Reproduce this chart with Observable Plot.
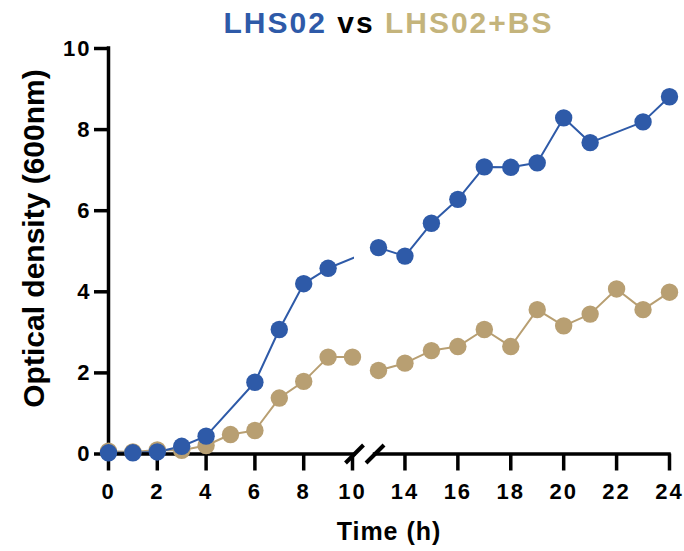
<!DOCTYPE html>
<html><head><meta charset="utf-8">
<script src="https://cdn.jsdelivr.net/npm/d3@7"></script>
<script src="https://cdn.jsdelivr.net/npm/@observablehq/plot@0.6"></script>
<style>
body{margin:0;background:#fff;}
#title{font:bold 30px "Liberation Sans",Arial,sans-serif;letter-spacing:2px;height:38px;box-sizing:border-box;padding-top:8px;line-height:30px;margin-left:108px;width:561px;text-align:center;white-space:nowrap;}
#chart g[aria-label="x-axis tick label"] text, #chart g[aria-label="y-axis tick label"] text{letter-spacing:2px;}
#chart text.xlab{letter-spacing:1px;}
</style></head><body>
<div id="title"><span style="color:#2E5AA8">LHS02</span> <span style="color:#000">vs</span> <span style="color:#C4B47C">LHS02+BS</span></div>
<div id="chart"></div>
<script>
// Data (time in hours, OD600)
const hours   = [0, 1, 2, 3, 4, 5, 6, 7, 8, 9, 10, 13, 14, 15, 16, 17, 18, 19, 20, 21, 22, 23, 24];
const lhs02   = [0.03, 0.03, 0.05, 0.19, 0.44, null, 1.77, 3.07, 4.2, 4.58, null, 5.09, 4.88, 5.69, 6.28, 7.08, 7.07, 7.18, 8.29, 7.68, null, 8.19, 8.81];
const lhs02bs = [0.07, 0.05, 0.1, 0.09, 0.21, 0.48, 0.58, 1.38, 1.79, 2.39, 2.39, 2.06, 2.24, 2.55, 2.65, 3.07, 2.65, 3.56, 3.16, 3.45, 4.07, 3.56, 3.99];
const xTicks = [0, 2, 4, 6, 8, 10, 14, 16, 18, 20, 22, 24];
const yTicks = [0, 2, 4, 6, 8, 10];
const seriesNames = ["LHS02", "LHS02+BS"];
const xLabel = "Time (h)";
const yLabel = "Optical density (600nm)";
// broken axis: gap between 10 h and 13 h
const xDomain = [0, 10, 13, 24];
const breakAt = [10.23, 12.6];

const blue = "#2E5AA8", tan = "#B89F72";
const W = 684, H = 513, mL = 108, mR = 15, mT = 10, mB = 97.5;
const xRange = [108, 352, 378, 669];

const rows = hours.map((h, i) => ({h, a: lhs02[i], b: lhs02bs[i]}));
const A = rows.filter(d => d.a != null);
const B = rows.filter(d => d.b != null);

const xs = d3.scaleLinear(xDomain, xRange);
const ys = d3.scaleLinear([0, 10], [H - mB, mT]);
const half = 9;
const slashes = breakAt.map(c => ({
  x1: xs.invert(xs(c) - half), x2: xs.invert(xs(c) + half),
  y1: ys.invert(ys(0) + half), y2: ys.invert(ys(0) - half)
}));
const axisSegments = [{x1: 0, x2: breakAt[0]}, {x1: breakAt[1], x2: d3.max(hours)}];

const chart = Plot.plot({
  width: W, height: H,
  marginLeft: mL, marginRight: mR, marginTop: mT, marginBottom: mB,
  x: {type: "linear", domain: xDomain, range: xRange},
  y: {domain: [0, 10]},
  style: {fontFamily: '"Liberation Sans", Arial, sans-serif', fontWeight: "bold", fontSize: "22px", color: "#000", background: "#fff", overflow: "visible"},
  marks: [
    Plot.line(B, {x: "h", y: "b", stroke: tan, strokeWidth: 2}),
    Plot.line(A, {x: "h", y: "a", stroke: blue, strokeWidth: 2}),
    Plot.rect([breakAt], {x1: d => d[0], x2: d => d[1], y1: () => 0.1, y2: () => 10, fill: "white"}),
    Plot.axisX({ticks: xTicks, tickSize: 17, tickPadding: 12, strokeWidth: 3.5, label: null, fontSize: 22}),
    Plot.axisY({ticks: yTicks, tickSize: 14, tickPadding: 3, strokeWidth: 3.5, label: null, fontSize: 22}),
    Plot.ruleX([0], {y1: () => 0, y2: () => 10, strokeWidth: 3.5, strokeLinecap: "square", stroke: "#000"}),
    Plot.ruleY(axisSegments, {x1: "x1", x2: "x2", y: () => 0, strokeWidth: 3.5, strokeLinecap: "square", stroke: "#000"}),
    Plot.dot(B, {x: "h", y: "b", r: 8.7, fill: tan, stroke: "none"}),
    Plot.dot(A, {x: "h", y: "a", r: 8.7, fill: blue, stroke: "none"}),
    Plot.link(slashes, {x1: "x1", y1: "y1", x2: "x2", y2: "y2", stroke: "#000", strokeWidth: 4}),
    Plot.text([xLabel], {frameAnchor: "bottom", textAnchor: "middle", lineAnchor: "top", dy: 68.5, fontSize: 25, text: d => d, className: "xlab"}),
    Plot.text([yLabel], {frameAnchor: "left", textAnchor: "middle", lineAnchor: "middle", rotate: -90, dx: -74.6, dy: -12.75, fontSize: 30, text: d => d})
  ]
});
document.getElementById("chart").appendChild(chart);
document.querySelectorAll('#chart g[aria-label="text"] text').forEach(t => { if (t.textContent === xLabel) t.classList.add("xlab"); });
</script>
</body></html>
